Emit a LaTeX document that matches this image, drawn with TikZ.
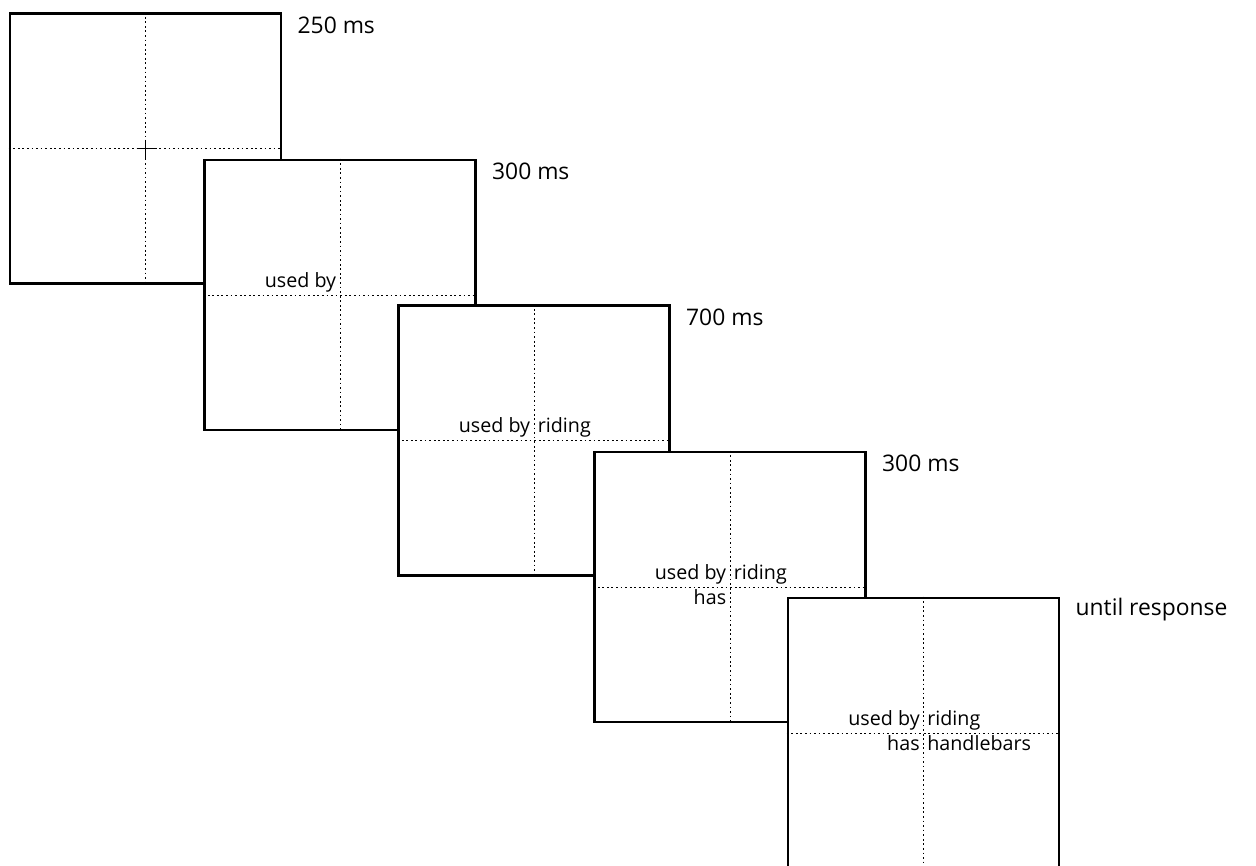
\documentclass[tikz,border=0pt]{standalone}
\usepackage{fontspec}
\setmainfont{Open Sans}
\usepackage{tikz}

\begin{document}
\begin{tikzpicture}[x=0.02cm, y=-0.02cm,
	screen/.style={draw, fill=white, line width=1.5pt, minimum width=5.42cm, minimum height=5.4cm, inner sep=0pt},
	grid/.style={line width=0.55pt, dash pattern=on 1pt off 1.6pt},
	word/.style={font=\fontsize{11.2}{13}\selectfont, inner xsep=2pt, inner ysep=1.5pt},
	timing/.style={font=\fontsize{13}{15}\selectfont, anchor=north west, inner sep=0pt}]
	\useasboundingbox (0,0) rectangle (1256,865);
	\clip (0,0) rectangle (1256,865);

	\node[screen] (f1) at (145.5,148.5) {};
	\draw[grid] (f1.north) -- (f1.south);
	\draw[grid] (f1.west) -- (f1.east);
	\draw[line width=0.9pt] (f1.center) ++(-9,0) -- ++(18,0);
	\draw[line width=0.9pt] (f1.center) ++(0,-9) -- ++(0,18);
	\node[timing] (t1) at ([xshift=0.3cm, yshift=-0.08cm]f1.north east) {250 ms};

	\node[screen] (f2) at (340,295) {};
	\draw[grid] (f2.north) -- (f2.south);
	\draw[grid] (f2.west) -- (f2.east);
	\node[word, anchor=south east] (w2a) at (f2.center) {used by};
	\node[timing] (t2) at ([xshift=0.3cm, yshift=-0.08cm]f2.north east) {300 ms};

	\node[screen] (f3) at (534,440.5) {};
	\draw[grid] (f3.north) -- (f3.south);
	\draw[grid] (f3.west) -- (f3.east);
	\node[word, anchor=south east] (w3a) at (f3.center) {used by};
	\node[word, anchor=south west] (w3b) at (f3.center) {riding};
	\node[timing] (t3) at ([xshift=0.3cm, yshift=-0.08cm]f3.north east) {700 ms};

	\node[screen] (f4) at (730,587) {};
	\draw[grid] (f4.north) -- (f4.south);
	\draw[grid] (f4.west) -- (f4.east);
	\node[word, anchor=south east] (w4a) at (f4.center) {used by};
	\node[word, anchor=south west] (w4b) at (f4.center) {riding};
	\node[word, anchor=north east] (w4c) at (f4.center) {has};
	\node[timing] (t4) at ([xshift=0.3cm, yshift=-0.08cm]f4.north east) {300 ms};

	\node[screen] (f5) at (923.5,733) {};
	\draw[grid] (f5.north) -- (f5.south);
	\draw[grid] (f5.west) -- (f5.east);
	\node[word, anchor=south east] (w5a) at (f5.center) {used by};
	\node[word, anchor=south west] (w5b) at (f5.center) {riding};
	\node[word, anchor=north east] (w5c) at (f5.center) {has};
	\node[word, anchor=north west] (w5d) at (f5.center) {handlebars};
	\node[timing] (t5) at ([xshift=0.3cm, yshift=-0.02cm]f5.north east) {until response};
\end{tikzpicture}
\end{document}
